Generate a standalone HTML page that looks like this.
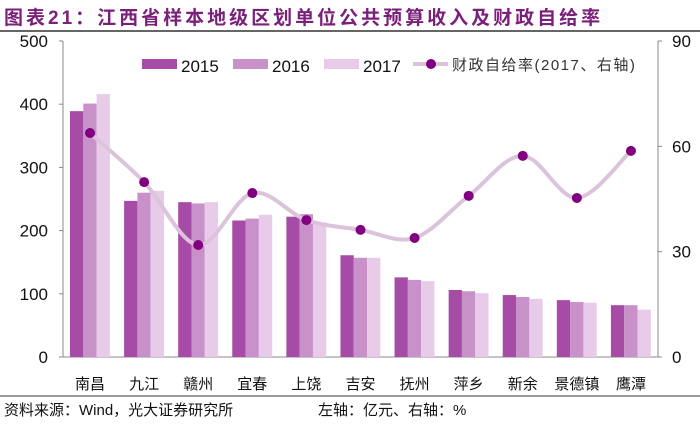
<!DOCTYPE html>
<html><head><meta charset="utf-8"><style>
body{margin:0;background:#fff;width:700px;height:422px;overflow:hidden;font-family:"Liberation Sans","Noto Sans CJK SC",sans-serif}
</style></head><body>
<svg width="700" height="422" xmlns="http://www.w3.org/2000/svg">
<text x="4" y="24" font-size="19" font-weight="bold" fill="#7a1f7a" letter-spacing="3" font-family="Liberation Sans,Noto Sans CJK SC,sans-serif">图表21：江西省样本地级区划单位公共预算收入及财政自给率</text>
<line x1="0" y1="31" x2="700" y2="31" stroke="#333" stroke-width="1.5"/>
<g id="plot"></g>
<line x1="0" y1="396" x2="700" y2="396" stroke="#333" stroke-width="1"/>
<text x="4" y="415" font-size="15" fill="#111" font-family="Liberation Sans,Noto Sans CJK SC,sans-serif">资料来源：Wind，光大证券研究所</text>
<text x="318" y="415" font-size="15" fill="#111" font-family="Liberation Sans,Noto Sans CJK SC,sans-serif">左轴：亿元、右轴：%</text>
</svg>
<script>
const categories=["南昌","九江","赣州","宜春","上饶","吉安","抚州","萍乡","新余","景德镇","鹰潭"];
const v2015=[389,247,245,216,222,161,126,106,98,90,82];
const v2016=[401,260,243,219,226,157,122,104,95,87,82];
const v2017=[416,263,245,225,213,157,120,101,92,86,75];
const ratio=[63.8,49.8,31.9,46.7,39,36.2,33.9,45.9,57.3,45.3,58.7];
const leftTicks=[0,100,200,300,400,500];
const rightTicks=[0,30,60,90];
const NS="http://www.w3.org/2000/svg";
const g=document.getElementById('plot');
const X0=63,X1=658,Y0=357,Y1=41;
const bw=(X1-X0)/categories.length;
const yL=v=>Y0-(v/500)*(Y0-Y1);
const yR=v=>Y0-(v/90)*(Y0-Y1);
const xc=i=>X0+bw*(i+0.5);
function mk(t,a){const e=document.createElementNS(NS,t);for(const k in a)e.setAttribute(k,a[k]);g.appendChild(e);return e;}
let ax=mk('line',{x1:X0,y1:Y1,x2:X0,y2:Y0,stroke:'#888'});


ax=mk('line',{x1:X0,y1:Y0,x2:X1,y2:Y0,stroke:'#888'});


ax=mk('line',{x1:X1,y1:Y1,x2:X1,y2:Y0,stroke:'#888'});


leftTicks.forEach(t=>{
  mk('line',{x1:X0-4,y1:yL(t),x2:X0,y2:yL(t),stroke:'#888'});
  const e=mk('text',{x:X0-15,y:yL(t)+6,'font-size':17,'text-anchor':'end',fill:'#111'});
  e.textContent=t;
  
  
});
rightTicks.forEach(t=>{
  mk('line',{x1:X1,y1:yR(t),x2:X1+4,y2:yR(t),stroke:'#888'});
  const e=mk('text',{x:X1+14,y:yR(t)+6,'font-size':17,fill:'#111'});
  e.textContent=t;
  
  
});
const series=[[v2015,'#a64ca6'],[v2016,'#c991c9'],[v2017,'#e8cbe8']];
const w=13.3;
categories.forEach((c,i)=>{
  series.forEach((s,j)=>{
    const x=X0+bw*i+7+j*w;
    const r=mk('rect',{x:x,y:yL(s[0][i]),width:w,height:Y0-yL(s[0][i]),fill:s[1]});
    
    
  });
  const t=mk('text',{x:xc(i),y:389,'font-size':15,'text-anchor':'middle',fill:'#111'});
  t.textContent=c;
  
  
});
const pts=ratio.map((v,i)=>[xc(i),yR(v)]);
let d='M'+pts[0][0]+','+pts[0][1];
for(let i=0;i<pts.length-1;i++){
  const p0=pts[Math.max(i-1,0)],p1=pts[i],p2=pts[i+1],p3=pts[Math.min(i+2,pts.length-1)];
  d+=` C${p1[0]+(p2[0]-p0[0])/6},${p1[1]+(p2[1]-p0[1])/6} ${p2[0]-(p3[0]-p1[0])/6},${p2[1]-(p3[1]-p1[1])/6} ${p2[0]},${p2[1]}`;
}
const ln=mk('path',{d:d,fill:'none',stroke:'#dcc3dc','stroke-width':4});


pts.forEach(p=>{
  const c=mk('circle',{cx:p[0],cy:p[1],r:5,fill:'#800080'});
  
  
});
const lg=[['2015','#a64ca6',142],['2016','#c991c9',233],['2017','#e8cbe8',324]];
lg.forEach(l=>{
  const r=mk('rect',{x:l[2],y:59,width:35,height:10,fill:l[1]});
  
  
  const t=mk('text',{x:l[2]+39,y:72,'font-size':17,fill:'#111'});
  t.textContent=l[0];
  
  
});
mk('line',{x1:413,y1:64,x2:448,y2:64,stroke:'#dcc3dc','stroke-width':4});
mk('circle',{cx:431,cy:64,r:5,fill:'#800080'});
const lt=mk('text',{x:452,y:70,'font-size':15,fill:'#333','letter-spacing':'1.5'});
lt.textContent='财政自给率(2017、右轴)';


</script>
</body></html>
